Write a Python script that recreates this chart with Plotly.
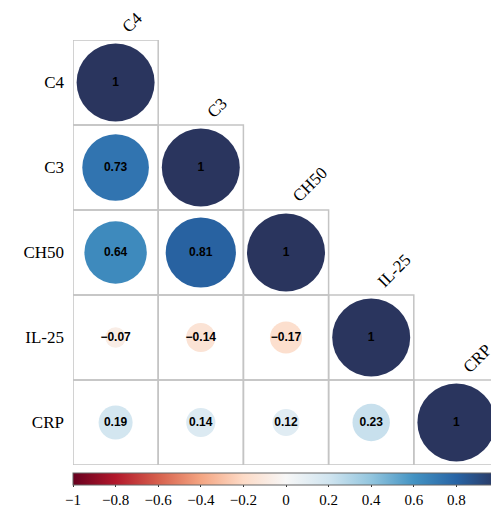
import plotly.graph_objects as go
import math

names = ["C4", "C3", "CH50", "IL-25", "CRP"]
# lower-triangle correlation values, row by row
row_C4 = [1]
row_C3 = [0.73, 1]
row_CH50 = [0.64, 0.81, 1]
row_IL25 = [-0.07, -0.14, -0.17, 1]
row_CRP = [0.19, 0.14, 0.12, 0.23, 1]
rows = [row_C4, row_C3, row_CH50, row_IL25, row_CRP]
cbar_ticks = [-1, -0.8, -0.6, -0.4, -0.2, 0, 0.2, 0.4, 0.6, 0.8, 1]

colorscale = [
    [0.0, "rgb(103,0,31)"], [0.1, "rgb(178,24,43)"], [0.2, "rgb(214,96,77)"],
    [0.3, "rgb(244,165,130)"], [0.4, "rgb(253,219,199)"], [0.5, "rgb(247,247,247)"],
    [0.6, "rgb(209,229,240)"], [0.7, "rgb(146,197,222)"], [0.8, "rgb(67,147,195)"],
    [0.9, "rgb(40,100,165)"], [1.0, "rgb(42,53,94)"],
]

def fmt(v):
    return ("%g" % v).replace("-", "\u2212")

xs, ys, vals, txt = [], [], [], []
for i, r in enumerate(rows):
    for j, v in enumerate(r):
        xs.append(j)
        ys.append(i)
        vals.append(v)
        txt.append(fmt(v))

full_d = 78
sizes = [full_d * math.sqrt(abs(v)) for v in vals]

fig = go.Figure()
fig.add_trace(go.Scatter(
    x=xs, y=ys, mode="markers+text",
    text=txt, textposition="middle center",
    textfont=dict(family="Liberation Sans", size=12, color="black", weight="bold"),
    marker=dict(
        size=sizes, sizemode="diameter", color=vals, cmin=-1, cmax=1,
        colorscale=colorscale, line=dict(width=0), opacity=1,
        showscale=True,
        colorbar=dict(
            orientation="h", thickness=12, len=1, lenmode="fraction",
            x=0, xanchor="left", y=-0.019, yanchor="top",
            xpad=0, ypad=0, outlinewidth=1, outlinecolor="#666",
            tickvals=cbar_ticks,
            ticktext=[fmt(t) for t in cbar_ticks],
            tickfont=dict(family="Liberation Serif", size=15, color="black"),
            ticks="outside", ticklen=2, tickcolor="#333",
        ),
    ),
    hoverinfo="skip", showlegend=False,
))

shapes = []
for i, r in enumerate(rows):
    for j, _ in enumerate(r):
        shapes.append(dict(type="rect", xref="x", yref="y",
                           x0=j - 0.5, x1=j + 0.5, y0=i - 0.5, y1=i + 0.5,
                           line=dict(color="#c4c4c4", width=1.5), layer="below"))

annotations = []
for k, n in enumerate(names):
    annotations.append(dict(x=k, y=k - 0.5, xref="x", yref="y", text=n,
                            showarrow=False, textangle=-45, xanchor="left", yanchor="bottom",
                            yshift=1, xshift=0,
                            font=dict(family="Liberation Serif", size=17, color="black")))

fig.update_layout(
    width=491, height=499,
    margin=dict(l=65, r=0, t=32, b=42, autoexpand=False),
    paper_bgcolor="white", plot_bgcolor="white",
    shapes=shapes, annotations=annotations,
    xaxis=dict(range=[-0.5, 4.5], showgrid=False, zeroline=False, showticklabels=False,
               showline=False, fixedrange=True),
    yaxis=dict(range=[4.5, -0.5], showgrid=False, zeroline=False, showline=False,
               tickvals=list(range(5)), ticktext=names, ticks="",
               ticklabelstandoff=8,
               tickfont=dict(family="Liberation Serif", size=17, color="black")),
)

fig.write_html("out.html")
